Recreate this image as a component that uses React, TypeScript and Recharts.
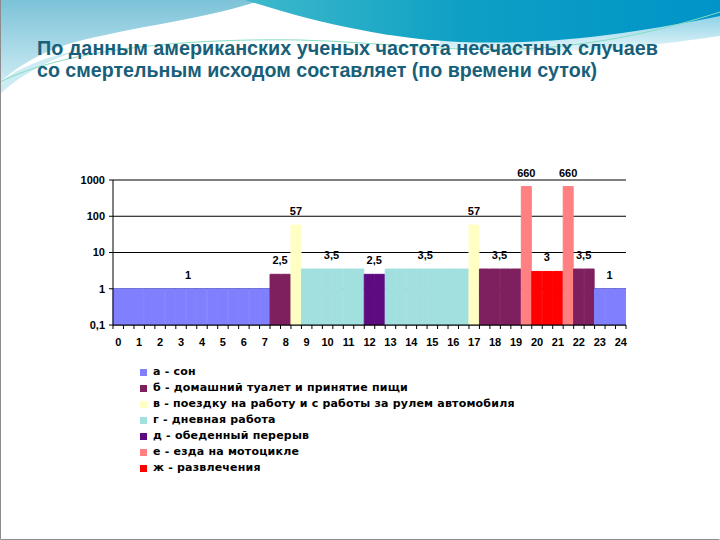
import React from 'react';
import { BarChart, Bar, XAxis, YAxis, CartesianGrid, Cell, LabelList } from 'recharts';

// ---- data ----
const BLOCK_KEYS = ['а', 'б', 'в', 'г', 'д', 'г', 'в', 'б', 'е', 'ж', 'е', 'б', 'а'];
const BLOCK_VALUES = [1, 2.5, 57, 3.5, 2.5, 3.5, 57, 3.5, 660, 3, 660, 3.5, 1];
const BLOCK_SLOTS = [15, 2, 1, 6, 2, 8, 1, 4, 1, 3, 1, 2, 3]; // half-hour slots per block
const BLOCK_LABELS = ['1', '2,5', '57', '3,5', '2,5', '3,5', '57', '3,5', '660', '3', '660', '3,5', '1'];
const HOUR_LABELS = ['0', '1', '2', '3', '4', '5', '6', '7', '8', '9', '10', '11', '12', '13', '14', '15', '16', '17', '18', '19', '20', '21', '22', '23', '24'];
const Y_TICKS = [0.1, 1, 10, 100, 1000];
const LEGEND_KEYS = ['а', 'б', 'в', 'г', 'д', 'е', 'ж'];
const LEGEND_TEXT = [
  'а - сон',
  'б - домашний туалет и принятие пищи',
  'в - поездку на работу и с работы за рулем автомобиля',
  'г - дневная работа',
  'д - обеденный перерыв',
  'е - езда на мотоцикле',
  'ж - развлечения',
];
const TITLE_LINES = [
  'По данным американских ученых частота несчастных случаев',
  'со смертельным исходом составляет (по времени суток)',
];

// ---- styles ----
const COLORS: Record<string, string> = {
  'а': '#8080FF',
  'б': '#7E1F5E',
  'в': '#FFFFC4',
  'г': '#A2E0E0',
  'д': '#5E0A80',
  'е': '#FF8080',
  'ж': '#FF0000',
};

const PLOT_LEFT = 113;
const PLOT_RIGHT = 626;
const PLOT_TOP = 180;
const PLOT_BOTTOM = 325;
const PLOT_W = PLOT_RIGHT - PLOT_LEFT;
const CHART_W = 720;
const CHART_H = 540;
const Y_AXIS_W = 50;
const X_AXIS_H = 30;

type Slot = { slot: string; value: number; key: string; label: string; span: number };

const slots: Slot[] = [];
BLOCK_SLOTS.forEach((n, b) => {
  for (let i = 0; i < n; i++) {
    slots.push({
      slot: `s${slots.length}`,
      value: BLOCK_VALUES[b],
      key: BLOCK_KEYS[b],
      label: i === 0 ? BLOCK_LABELS[b] : '',
      span: n,
    });
  }
});

const tickFont = { fontFamily: '"Liberation Sans", Arial, sans-serif', fontSize: 11, fontWeight: 700, fill: '#000' };

const XTick = (props: any) => {
  const { x, y, index } = props;
  const band = PLOT_W / slots.length;
  const left = x - band / 2;
  return (
    <g>
      <line x1={left} x2={left} y1={y} y2={y + 4} stroke="#000" />
      {index === slots.length - 1 && <line x1={x + band / 2} x2={x + band / 2} y1={y} y2={y + 4} stroke="#000" />}
      {index % 2 === 0 && (
        <text x={x} y={y + 21} textAnchor="middle" {...tickFont}>
          {HOUR_LABELS[index / 2]}
        </text>
      )}
    </g>
  );
};

const renderLabel = (props: any) => {
  const vb = props.viewBox && props.viewBox.x !== undefined ? props.viewBox : props;
  const { x, y, width } = vb;
  const idx = props.index;
  const entry = slots[idx];
  if (!entry || !entry.label) return null;
  const cx = x + (width * entry.span) / 2;
  return (
    <text x={cx} y={y - 10} textAnchor="middle" {...tickFont}>
      {entry.label}
    </text>
  );
};

const Decoration = () => (
  <svg width={720} height={540} style={{ position: 'absolute', left: 0, top: 0 }}>
    <defs>
      <linearGradient id="lb" x1="0" y1="0" x2="0" y2="1">
        <stop offset="0" stopColor="#7CC2D8" />
        <stop offset="1" stopColor="#CBEBF3" />
      </linearGradient>
      <linearGradient id="teal" x1="0" y1="0" x2="1" y2="0">
        <stop offset="0" stopColor="#3FBACB" />
        <stop offset="0.45" stopColor="#0EA0C4" />
        <stop offset="1" stopColor="#0094C8" />
      </linearGradient>
      <linearGradient id="band" x1="0" y1="0" x2="0" y2="1">
        <stop offset="0" stopColor="#8AD0E5" />
        <stop offset="1" stopColor="#E6F6FA" />
      </linearGradient>
    </defs>
    <rect x={0} y={0} width={720} height={540} fill="#FFFFFF" />
    <path d="M0,0 H262 C205,20 120,28 62,46 C36,55 16,68 0,82 Z" fill="url(#lb)" />
    <path d="M0,82 C22,66 48,56 80,50 C40,63 18,78 0,94 Z" fill="#BFE7F0" opacity={0.8} />
    <path d="M440,40 C560,46 650,28 720,14 V36 C650,46 560,58 440,47 Z" fill="url(#band)" />
    <path d="M245,0 H720 V16 C650,30 560,46 460,42 C390,39 320,24 245,0 Z" fill="url(#teal)" />
    <path
      d="M0,82 C60,52 170,38 300,40 C380,42 440,52 520,49 C600,46 670,28 720,12"
      fill="none"
      stroke="#86DCC4"
      strokeWidth={1}
    />
    <path d="M0.5,0 V539.5 H719.5" fill="none" stroke="#8C8C8C" strokeWidth={1} />
    {TITLE_LINES.map((t, i) => (
      <text
        key={i}
        x={37}
        y={55 + i * 22}
        textLength={i === 0 ? 621 : 560}
        lengthAdjust="spacingAndGlyphs"
        fontFamily='"Liberation Sans", Arial, sans-serif'
        fontWeight={700}
        fontSize={20}
        fill="#18607A"
      >
        {t}
      </text>
    ))}
  </svg>
);

const LegendBox = () => (
  <div style={{ position: 'absolute', left: 140, top: 364 }}>
    {LEGEND_KEYS.map((k, i) => (
      <div key={k} style={{ display: 'flex', alignItems: 'center', height: 16 }}>
        <div style={{ width: 7, height: 7, background: COLORS[k], marginRight: 6 }} />
        <span
          style={{
            fontFamily: '"DejaVu Sans", Verdana, sans-serif',
            fontWeight: 700,
            fontSize: 11,
            letterSpacing: 0.2,
            color: '#000',
            whiteSpace: 'nowrap',
            lineHeight: '16px',
          }}
        >
          {LEGEND_TEXT[i]}
        </span>
      </div>
    ))}
  </div>
);

export default function App() {
  return (
    <div style={{ position: 'absolute', left: 0, top: 0, width: 720, height: 540, overflow: 'hidden', background: '#fff' }}>
      <Decoration />
      <div style={{ position: 'absolute', left: 0, top: 0 }}>
        <BarChart
          width={CHART_W}
          height={CHART_H}
          data={slots}
          barCategoryGap={0}
          barGap={0}
          margin={{
            top: PLOT_TOP,
            left: PLOT_LEFT - Y_AXIS_W,
            right: CHART_W - PLOT_RIGHT,
            bottom: CHART_H - PLOT_BOTTOM - X_AXIS_H,
          }}
        >
          <CartesianGrid horizontal vertical={false} stroke="#000" strokeWidth={1} />
          <XAxis
            dataKey="slot"
            interval={0}
            height={X_AXIS_H}
            tickLine={false}
            tickSize={0}
            tickMargin={0}
            axisLine={{ stroke: '#000' }}
            tick={(p: any) => <XTick {...p} />}
          />
          <YAxis
            type="number"
            scale="log"
            domain={[0.1, 1000]}
            allowDataOverflow
            ticks={Y_TICKS}
            width={Y_AXIS_W}
            tickSize={4}
            tickMargin={4}
            axisLine={{ stroke: '#000' }}
            tickLine={{ stroke: '#000' }}
            tick={tickFont}
            tickFormatter={(v: number) => String(v).replace('.', ',')}
          />
          <Bar dataKey="value" isAnimationActive={false}>
            {slots.map((s) => (
              <Cell key={s.slot} fill={COLORS[s.key]} stroke={COLORS[s.key]} strokeWidth={1} />
            ))}
            <LabelList dataKey="label" content={renderLabel} />
          </Bar>
        </BarChart>
      </div>
      <LegendBox />
    </div>
  );
}
